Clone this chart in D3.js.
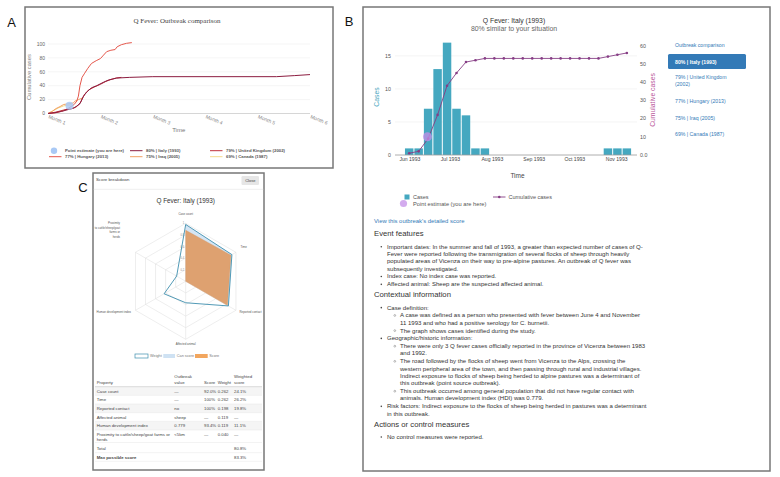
<!DOCTYPE html>
<html><head><meta charset="utf-8">
<script src="https://cdn.jsdelivr.net/npm/d3@7"></script>
<style>body{margin:0;background:#fff;} svg{display:block;font-family:"Liberation Sans",Arial,sans-serif;}</style>
</head><body><svg id="c" width="780" height="477"></svg>
<script>
// ================= DATA =================
// Panel A: outbreak comparison (x in months, y cumulative cases)
const monthTicks = [1, 2, 3, 4, 5, 6];
const cumTicksA = [0, 20, 40, 60, 80, 100];
const italyMonths = [1.0, 1.12, 1.26, 1.4, 1.5, 1.61, 1.67, 1.74, 1.83, 1.93, 2.06, 2.15, 2.31, 2.56, 3.0, 5.36, 5.7, 6.0];
const italyCum    = [0, 1, 3, 6, 8, 14, 24, 31, 37, 40, 45, 48, 51, 52, 53, 53, 54.5, 56];
const ukMonths = [1.0, 1.15, 1.3, 1.45, 1.55, 1.62, 1.7, 1.78, 1.88, 2.0, 2.1, 2.2, 2.3, 2.4];
const ukCum    = [0, 2, 5, 7, 10, 16, 28, 34, 38, 42, 46, 49, 51, 52];
const hungaryMonths = [1.0, 1.15, 1.29, 1.4, 1.5, 1.55, 1.58, 1.61, 1.65, 1.7, 1.76, 1.83, 1.92, 2.0, 2.06, 2.12, 2.2, 2.28, 2.32, 2.4, 2.5, 2.6];
const hungaryCum    = [0, 1, 4, 8, 13, 18, 25, 40, 52, 58, 65, 72, 76, 79, 84, 89, 91, 92, 96, 99, 101, 102];
const iraqMonths = [1.0, 1.08, 1.15, 1.23, 1.3, 1.4, 1.48, 1.52, 1.58, 1.65];
const iraqCum    = [0, 3, 7, 10, 13, 14, 15, 18, 20, 22];
const canadaMonths = [1.0, 1.1, 1.2, 1.3, 1.4, 1.45];
const canadaCum    = [0, 4, 8, 11, 12, 13];
const pointEstA = [1.41, 11];
const seriesNamesA = ["80% | Italy (1993)", "79% | United Kingdom (2002)", "77% | Hungary (2013)", "75% | Iraq (2005)", "69% | Canada (1987)"];

// Panel B: Italy (1993) weekly cases
const firstWeek = "1993-05-28";
const weeklyCases = [1, 1, 7, 13, 17, 7, 6, 1, 1, 0, 0, 0, 0, 0, 0, 0, 0, 0, 0, 0, 0, 1, 1, 1];
const weeklyCum   = [1, 2, 9, 22, 38, 45, 51, 52, 53, 53, 53, 53, 53, 53, 53, 53, 53, 53, 53, 53, 53, 54, 55, 56];
const casesTicks = [0, 5, 10, 15];
const cumTicksB = [0, 10, 20, 30, 40, 50, 60];
const monthTickDates = ["1993-06-01", "1993-07-01", "1993-08-01", "1993-09-01", "1993-10-01", "1993-11-01"];
const pointEstB = ["1993-06-14", 10];
const comparisonList = ["80% | Italy (1993)", ["79% | United Kingdom", "(2002)"], "77% | Hungary (2013)", "75% | Iraq (2005)", "69% | Canada (1987)"];

// Panel C: score breakdown
const radarAxes = ["Case count", "Time", "Reported contact", "Affected animal", "Human development index", "Proximity to cattle/sheep/goat farms or herds"];
const weightRadar   = [0.98, 0.92, 0.85, 0.37, 0.43, 0.18];
const canScoreRadar = [0.98, 0.92, 0.85, 0, 0, 0];
const scoreRadar    = [0.88, 0.90, 0.83, 0, 0, 0];
const radarLevels = [0.2, 0.4, 0.6, 0.8, 1.0];
const tableProps   = ["Case count", "Time", "Reported contact", "Affected animal", "Human development index", ["Proximity to cattle/sheep/goat farms or", "herds"]];
const tableValues  = ["—", "—", "no", "sheep", "0.779", "<5km"];
const tableScores  = ["92.0%", "100%", "100%", "—", "93.4%", "—"];
const tableWeights = ["0.262", "0.262", "0.198", "0.119", "0.119", "0.040"];
const tableWeighted = ["24.1%", "26.2%", "19.8%", "—", "11.1%", "—"];
const totalScore = "80.8%";
const maxScore = "83.3%";

// ================= DRAW =================
const svg = d3.select("#c");
const parse = d3.timeParse("%Y-%m-%d");

// panel letters
[["A", 11.5, 27], ["B", 349, 26], ["C", 83, 192]].forEach(([t, x, y]) =>
  svg.append("text").attr("x", x).attr("y", y).attr("text-anchor", "middle")
    .attr("font-size", 13).attr("fill", "#111").text(t));

// frames
svg.append("rect").attr("x", 25).attr("y", 7).attr("width", 308).attr("height", 161)
  .attr("fill", "#fff").attr("stroke", "#777").attr("stroke-width", 1.5);
svg.append("rect").attr("x", 363).attr("y", 7).attr("width", 407).attr("height", 464)
  .attr("fill", "#fff").attr("stroke", "#777").attr("stroke-width", 1.5);
svg.append("rect").attr("x", 93).attr("y", 173).attr("width", 171).attr("height", 297)
  .attr("fill", "#fff").attr("stroke", "#777").attr("stroke-width", 1.5);

// ---------- Panel A ----------
{
  const g = svg.append("g");
  const x = d3.scaleLinear().domain([1, 6]).range([48, 310]);
  const y = d3.scaleLinear().domain([0, 100]).range([113.5, 44]);
  g.append("text").attr("x", 177).attr("y", 22.5).attr("text-anchor", "middle")
    .attr("font-family", '"Liberation Serif", "Times New Roman", serif').attr("font-size", 7).attr("fill", "#444")
    .text("Q Fever: Outbreak comparison");
  g.selectAll(".gA").data(cumTicksA.filter(d => d > 0)).join("line")
    .attr("x1", x(1)).attr("x2", x(6)).attr("y1", d => y(d)).attr("y2", d => y(d))
    .attr("stroke", "#eee").attr("stroke-width", 0.6);
  g.append("line").attr("x1", x(1)).attr("x2", x(6)).attr("y1", y(0)).attr("y2", y(0))
    .attr("stroke", "#ccc").attr("stroke-width", 0.8);
  g.selectAll(".tA").data(cumTicksA).join("text")
    .attr("x", 45).attr("y", d => y(d)).attr("dy", "0.35em").attr("text-anchor", "end")
    .attr("font-size", 5).attr("fill", "#666").text(d => d);
  g.selectAll(".mA").data(monthTicks).join("text")
    .attr("transform", d => `translate(${x(d)},${118}) rotate(22)`)
    .attr("font-size", 5).attr("fill", "#888").text(d => "Month " + d);
  g.append("text").attr("transform", "translate(31,77) rotate(-90)").attr("text-anchor", "middle")
    .attr("font-size", 5.8).attr("fill", "#888").text("Cumulative cases");
  g.append("text").attr("x", 178.7).attr("y", 132).attr("text-anchor", "middle")
    .attr("font-size", 6).attr("fill", "#777").text("Time");

  const colors = ["#8c1d40", "#c0303a", "#e5574c", "#f2a063", "#f5d98a"];
  const series = [
    [italyMonths, italyCum], [ukMonths, ukCum], [hungaryMonths, hungaryCum],
    [iraqMonths, iraqCum], [canadaMonths, canadaCum]
  ];
  const line = d3.line().x(d => x(d[0])).y(d => y(d[1]));
  [4, 3, 2, 1, 0].forEach(i => {
    const pts = series[i][0].map((m, j) => [m, series[i][1][j]]);
    g.append("path").attr("d", line(pts)).attr("fill", "none")
      .attr("stroke", colors[i]).attr("stroke-width", 1);
  });
  g.append("circle").attr("cx", x(pointEstA[0])).attr("cy", y(pointEstA[1])).attr("r", 4)
    .attr("fill", "#a9c9f5").attr("opacity", 0.85);

  // legend
  const items = [{t: "Point estimate (you are here)", c: null}].concat(seriesNamesA.map((t, i) => ({t, c: colors[i]})));
  const colX = [49, 130, 210], rowY = [150.7, 156.7];
  items.forEach((it, i) => {
    const cx = colX[i % 3], cy = rowY[Math.floor(i / 3)];
    if (it.c === null) {
      g.append("circle").attr("cx", cx + 5).attr("cy", cy).attr("r", 3.2).attr("fill", "#a9c9f5");
    } else {
      g.append("line").attr("x1", cx).attr("x2", cx + 12.5).attr("y1", cy).attr("y2", cy)
        .attr("stroke", it.c).attr("stroke-width", 1);
    }
    g.append("text").attr("x", cx + 16).attr("y", cy).attr("dy", "0.35em")
      .attr("font-size", 4.3).attr("font-weight", "bold").attr("fill", "#555").text(it.t);
  });
}

// ---------- Panel B ----------
{
  const g = svg.append("g");
  const x = d3.scaleTime().domain([new Date(1993, 4, 21), new Date(1993, 10, 16)]).range([395, 637]);
  const y = d3.scaleLinear().domain([0, 17.4]).range([155, 40]);
  const y2 = d3.scaleLinear().domain([0, 63.1]).range([155, 40]);
  const teal = "#45a8c0", purple = "#863d85";

  g.append("text").attr("x", 514).attr("y", 22.5).attr("text-anchor", "middle")
    .attr("font-size", 6.8).attr("fill", "#333").text("Q Fever: Italy (1993)");
  g.append("text").attr("x", 514).attr("y", 31).attr("text-anchor", "middle")
    .attr("font-size", 6.9).attr("fill", "#666").text("80% similar to your situation");

  g.selectAll(".gB").data(casesTicks.filter(d => d > 0)).join("line")
    .attr("x1", 395).attr("x2", 637).attr("y1", d => y(d)).attr("y2", d => y(d))
    .attr("stroke", "#eee").attr("stroke-width", 0.6);

  const w0 = parse(firstWeek);
  const weeks = weeklyCases.map((c, i) => ({
    s: d3.timeDay.offset(w0, 7 * i), e: d3.timeDay.offset(w0, 7 * i + 7), c, cum: weeklyCum[i]
  }));
  g.selectAll(".bar").data(weeks.filter(d => d.c > 0)).join("rect")
    .attr("x", d => x(d.s) + 0.5).attr("width", d => x(d.e) - x(d.s) - 1)
    .attr("y", d => y(d.c)).attr("height", d => y(0) - y(d.c)).attr("fill", teal);

  g.append("line").attr("x1", 395).attr("x2", 637).attr("y1", y(0)).attr("y2", y(0))
    .attr("stroke", "#999").attr("stroke-width", 0.8);

  const mid = d => new Date((d.s.getTime() + d.e.getTime()) / 2);
  g.append("path").attr("d", d3.line().x(d => x(mid(d))).y(d => y2(d.cum))(weeks))
    .attr("fill", "none").attr("stroke", purple).attr("stroke-width", 0.9);
  g.selectAll(".cm").data(weeks).join("circle")
    .attr("cx", d => x(mid(d))).attr("cy", d => y2(d.cum)).attr("r", 1.3).attr("fill", purple);

  g.append("circle").attr("cx", x(parse(pointEstB[0]))).attr("cy", y2(pointEstB[1])).attr("r", 4.5)
    .attr("fill", "#c48fe8").attr("opacity", 0.75);

  g.selectAll(".tl").data(casesTicks).join("text")
    .attr("x", 391).attr("y", d => y(d)).attr("dy", "0.35em").attr("text-anchor", "end")
    .attr("font-size", 5.3).attr("fill", "#555").text(d => d);
  g.selectAll(".tr").data(cumTicksB).join("text")
    .attr("x", 640).attr("y", d => y2(d)).attr("dy", "0.35em")
    .attr("font-size", 5.3).attr("fill", "#555").text(d => d === 0 ? "0.0" : d);
  g.selectAll(".tx").data(monthTickDates).join("text")
    .attr("x", d => x(parse(d))).attr("y", 161).attr("text-anchor", "middle")
    .attr("font-size", 5.1).attr("fill", "#444").text(d => d3.timeFormat("%b %Y")(parse(d)));

  g.append("text").attr("transform", "translate(379,97) rotate(-90)").attr("text-anchor", "middle")
    .attr("font-size", 6.8).attr("fill", "#4aa8c0").text("Cases");
  g.append("text").attr("transform", "translate(655,100) rotate(-90)").attr("text-anchor", "middle")
    .attr("font-size", 6.8).attr("fill", "#b9559a").text("Cumulative cases");
  g.append("text").attr("x", 517.5).attr("y", 178).attr("text-anchor", "middle")
    .attr("font-size", 6.5).attr("fill", "#444").text("Time");

  // legend
  g.append("rect").attr("x", 404.5).attr("y", 194.5).attr("width", 5).attr("height", 5).attr("fill", teal);
  g.append("text").attr("x", 413).attr("y", 199).attr("font-size", 5.5).attr("fill", "#555").text("Cases");
  g.append("line").attr("x1", 493).attr("x2", 505.5).attr("y1", 197).attr("y2", 197).attr("stroke", purple).attr("stroke-width", 0.9);
  g.append("circle").attr("cx", 499.3).attr("cy", 197).attr("r", 1.3).attr("fill", purple);
  g.append("text").attr("x", 508.5).attr("y", 199).attr("font-size", 5.5).attr("fill", "#555").text("Cumulative cases");
  g.append("circle").attr("cx", 403.5).attr("cy", 203.5).attr("r", 3.6).attr("fill", "#c48fe8").attr("opacity", 0.75);
  g.append("text").attr("x", 413).attr("y", 205.8).attr("font-size", 5.7).attr("fill", "#555").text("Point estimate (you are here)");

  // sidebar
  const blue = "#337ab7";
  g.append("text").attr("x", 675).attr("y", 46.8).attr("font-size", 5.2).attr("fill", blue).text("Outbreak comparison");
  g.append("rect").attr("x", 668).attr("y", 54).attr("width", 78).attr("height", 15).attr("rx", 1.5).attr("fill", blue);
  const sideY = [63.5, 78.8, 103, 119.7, 136.2];
  comparisonList.forEach((t, i) => {
    const lines = Array.isArray(t) ? t : [t];
    lines.forEach((l, j) => g.append("text").attr("x", 675).attr("y", sideY[i] + j * 6.8)
      .attr("font-size", 5.2).attr("font-weight", i === 0 ? "bold" : "normal")
      .attr("fill", i === 0 ? "#fff" : blue).text(l));
  });

  // text content
  g.append("text").attr("x", 374).attr("y", 223).attr("font-size", 5.9).attr("fill", blue)
    .text("View this outbreak's detailed score");
  const body = [
    {h: "Event features"},
    {l: 1, t: ["Important dates: In the summer and fall of 1993, a greater than expected number of cases of Q-",
               "Fever were reported following the transmigration of several flocks of sheep through heavily",
               "populated areas of Vicenza on their way to pre-alpine pastures. An outbreak of Q fever was",
               "subsequently investigated."]},
    {l: 1, t: ["Index case: No index case was reported."]},
    {l: 1, t: ["Affected animal: Sheep are the suspected affected animal."]},
    {h: "Contextual information"},
    {l: 1, t: ["Case definition:"]},
    {l: 2, t: ["A case was defined as a person who presented with fever between June 4 and November",
               "11 1993 and who had a positive serology for C. burnetii."]},
    {l: 2, t: ["The graph shows cases identified during the study."]},
    {l: 1, t: ["Geographic/historic information:"]},
    {l: 2, t: ["There were only 3 Q fever cases officially reported in the province of Vicenza between 1983",
               "and 1992."]},
    {l: 2, t: ["The road followed by the flocks of sheep went from Vicenza to the Alps, crossing the",
               "western peripheral area of the town, and then passing through rural and industrial villages.",
               "Indirect exposure to flocks of sheep being herded to alpine pastures was a determinant of",
               "this outbreak (point source outbreak)."]},
    {l: 2, t: ["This outbreak occurred among general population that did not have regular contact with",
               "animals. Human development index (HDI) was 0.779."]},
    {l: 1, t: ["Risk factors: Indirect exposure to the flocks of sheep being herded in pastures was a determinant",
               "in this outbreak."]},
    {h: "Actions or control measures"},
    {l: 1, t: ["No control measures were reported."]}
  ];
  let yy = 236.3, prev = null;
  body.forEach((b, bi) => {
    if (b.h) {
      if (bi > 0) yy += 11;
      g.append("text").attr("x", 374).attr("y", yy).attr("font-size", 7.7).attr("fill", "#333").text(b.h);
      prev = "h";
    } else {
      yy += prev === "h" ? 12.3 : 7.8;
      const tx = b.l === 1 ? 387 : 400;
      if (b.l === 1) g.append("circle").attr("cx", 381.3).attr("cy", yy - 1.9).attr("r", 0.8).attr("fill", "#444");
      else g.append("circle").attr("cx", 394.8).attr("cy", yy - 1.9).attr("r", 0.9).attr("fill", "none").attr("stroke", "#555").attr("stroke-width", 0.4);
      b.t.forEach((line, j) => {
        if (j > 0) yy += 7.35;
        g.append("text").attr("x", tx).attr("y", yy).attr("font-size", 6.05).attr("fill", "#333").text(line);
      });
      prev = "b";
    }
  });
}

// ---------- Panel C ----------
{
  const g = svg.append("g");
  g.append("text").attr("x", 96).attr("y", 180.5).attr("font-size", 4.3).attr("fill", "#444").text("Score breakdown");
  g.append("rect").attr("x", 241.5).attr("y", 176).attr("width", 17.5).attr("height", 9).attr("rx", 1.2).attr("fill", "#e6e6e6");
  g.append("text").attr("x", 250.3).attr("y", 181.9).attr("text-anchor", "middle").attr("font-size", 4).attr("fill", "#444").text("Close");
  g.append("line").attr("x1", 93.7).attr("x2", 263.3).attr("y1", 189.3).attr("y2", 189.3).attr("stroke", "#e4e4e4").attr("stroke-width", 0.6);
  g.append("text").attr("x", 185.7).attr("y", 203.3).attr("text-anchor", "middle").attr("font-size", 6.4).attr("fill", "#333").text("Q Fever: Italy (1993)");

  const cx = 185.7, cy = 281.3, R = 58;
  const r = d3.scaleLinear().domain([0, 1]).range([0, R]);
  const ang = i => -Math.PI / 2 + i * Math.PI / 3;
  const pt = (i, v) => [cx + r(v) * Math.cos(ang(i)), cy + r(v) * Math.sin(ang(i))];
  const poly = vals => "M" + vals.map((v, i) => pt(i, v).join(",")).join("L") + "Z";

  radarLevels.forEach(lv => g.append("path").attr("d", poly(radarAxes.map(() => lv)))
    .attr("fill", "none").attr("stroke", "#ddd").attr("stroke-width", 0.5));
  radarAxes.forEach((a, i) => {
    const p = pt(i, 1);
    g.append("line").attr("x1", cx).attr("y1", cy).attr("x2", p[0]).attr("y2", p[1]).attr("stroke", "#ddd").attr("stroke-width", 0.5);
  });
  radarLevels.forEach(lv => g.append("text").attr("x", cx - 1.5).attr("y", pt(0, lv)[1] + 1)
    .attr("text-anchor", "end").attr("font-size", 2.6).attr("fill", "#888").text(lv === 1 ? "1" : lv.toFixed(1)));

  g.append("path").attr("d", poly(canScoreRadar)).attr("fill", "#cfe2f3").attr("opacity", 0.9);
  g.append("path").attr("d", poly(scoreRadar)).attr("fill", "#dea170").attr("stroke", "#d8955e").attr("stroke-width", 0.4);
  g.append("path").attr("d", poly(weightRadar)).attr("fill", "none").attr("stroke", "#3e8fae").attr("stroke-width", 0.9);

  const lab = (t, x, y, anchor) => g.append("text").attr("x", x).attr("y", y).attr("text-anchor", anchor)
    .attr("font-size", 2.9).attr("fill", "#555").text(t);
  lab(radarAxes[0], cx, 215, "middle");
  lab(radarAxes[1], 240.5, 247.5, "start");
  lab(radarAxes[2], 239.5, 312.8, "start");
  lab(radarAxes[3], cx, 344.5, "middle");
  lab(radarAxes[4], 131, 312.8, "end");
  ["Proximity", "to cattle/sheep/goat", "farms or", "herds"].forEach((t, j) => lab(t, 120, 224.3 + j * 4.4, "end"));

  // legend
  const legY = 354;
  g.append("rect").attr("x", 135).attr("y", legY).attr("width", 13).attr("height", 4).attr("fill", "#fff").attr("stroke", "#3e8fae").attr("stroke-width", 0.7);
  g.append("text").attr("x", 150).attr("y", legY + 3.4).attr("font-size", 3.8).attr("fill", "#777").text("Weight");
  g.append("rect").attr("x", 163.3).attr("y", legY).attr("width", 11.7).attr("height", 4).attr("fill", "#cfe2f3");
  g.append("text").attr("x", 176.8).attr("y", legY + 3.4).attr("font-size", 3.8).attr("fill", "#777").text("Can score");
  g.append("rect").attr("x", 195).attr("y", legY).attr("width", 12.7).attr("height", 4).attr("fill", "#f2a65e");
  g.append("text").attr("x", 209.3).attr("y", legY + 3.4).attr("font-size", 3.8).attr("fill", "#777").text("Score");

  // table
  const colX = [96.7, 174.3, 204, 217.7, 234];
  const fs = 4.3, tc = "#444";
  const txt = (t, x, y, bold) => g.append("text").attr("x", x).attr("y", y).attr("font-size", fs)
    .attr("font-weight", bold ? "bold" : "normal").attr("fill", tc).text(t);
  txt("Outbreak", colX[1], 378.2); txt("Weighted", colX[4], 378.2);
  txt("Property", colX[0], 383.8); txt("value", colX[1], 383.8); txt("Score", colX[2], 383.8);
  txt("Weight", colX[3], 383.8); txt("score", colX[4], 383.8);
  const rowTop = [386.7, 395.3, 404, 412.7, 421.3, 430];
  const rowBot = [395.3, 404, 412.7, 421.3, 430, 442.5];
  rowTop.forEach((t, i) => {
    if (i % 2 === 0) g.append("rect").attr("x", 95).attr("y", t).attr("width", 167).attr("height", rowBot[i] - t).attr("fill", "#f5f5f5");
  });
  [386.7, 395.3, 404, 412.7, 421.3, 430, 442.5, 452.7, 461.3].forEach((ly, i) =>
    g.append("line").attr("x1", 95).attr("x2", 262).attr("y1", ly).attr("y2", ly)
      .attr("stroke", i === 0 ? "#ccc" : "#e6e6e6").attr("stroke-width", i === 0 ? 0.7 : 0.5));
  tableProps.forEach((p, i) => {
    const by = rowTop[i] + 5.8;
    const lines = Array.isArray(p) ? p : [p];
    lines.forEach((l, j) => txt(l, colX[0], by + j * 5));
    txt(tableValues[i], colX[1], by);
    txt(tableScores[i], colX[2], by);
    txt(tableWeights[i], colX[3], by);
    txt(tableWeighted[i], colX[4], by);
  });
  txt("Total", colX[0], 449.8); txt(totalScore, colX[4], 449.8);
  txt("Max possible score", colX[0], 458.5, true); txt(maxScore, colX[4], 458.5);
}
</script></body></html>
